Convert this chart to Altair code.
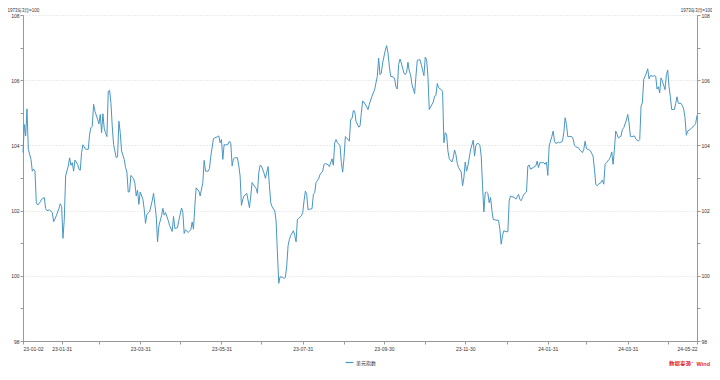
import altair as alt
import pandas as pd

SERIES = "美元指数"
AXIS_TITLE = "1973年3月=100"
SOURCE = "数据来源：Wind"
LINE_COLOR = "#4896c4"

# ---- data: day-of-month and index value, month by month ----
d2023_01 = [2, 3, 4, 5, 6, 8, 9, 10, 11, 12, 13, 15, 16, 18, 19, 20, 22, 24, 25, 27, 29, 30, 31]
v2023_01 = [103.78, 104.64, 104.29, 105.12, 103.88, 103.57, 103.21, 103.27, 103.2, 102.24, 102.17, 102.27,
            102.35, 102.4, 102.06, 102.0, 102.02, 101.94, 101.66, 101.84, 102.07, 102.21, 102.12]
d2023_02 = [1, 2, 3, 5, 6, 7, 8, 9, 10, 12, 13, 14, 15, 16, 18, 20, 21, 22, 23, 24, 25, 27, 28]
v2023_02 = [101.15, 101.73, 103.06, 103.37, 103.62, 103.39, 103.47, 103.21, 103.55, 103.42, 103.27, 103.24,
            103.78, 104.02, 103.88, 103.88, 104.34, 104.54, 104.59, 105.26, 105.05, 104.8, 104.66]
d2023_03 = [1, 2, 3, 4, 5, 6, 7, 8, 9, 10, 11, 13, 14, 15, 16, 17, 19, 20, 21, 22, 23, 24, 26, 27, 28, 29, 30, 31]
v2023_03 = [104.95, 104.39, 104.97, 104.51, 104.39, 104.27, 105.66, 105.69, 105.31, 104.59, 104.03, 103.62,
            103.65, 104.74, 104.39, 103.83, 103.57, 103.32, 103.18, 102.57, 102.58, 103.08, 102.98, 102.84,
            102.45, 102.63, 102.19, 102.57]
d2023_04 = [2, 3, 4, 5, 7, 9, 10, 12, 13, 14, 16, 17, 18, 19, 21, 22, 24, 25, 26, 28, 29]
v2023_04 = [102.35, 102.04, 101.61, 101.89, 101.96, 102.3, 102.53, 101.84, 101.04, 101.53, 101.84, 102.07,
            101.86, 101.94, 101.7, 101.55, 101.36, 101.82, 101.45, 101.48, 101.7]
d2023_05 = [1, 2, 3, 4, 6, 8, 9, 10, 11, 12, 14, 15, 17, 18, 19, 21, 22, 23, 25, 26, 28, 29, 30, 31]
v2023_05 = [102.08, 101.94, 101.3, 101.41, 101.33, 101.41, 101.65, 101.43, 102.14, 102.7, 102.6, 102.45,
            102.86, 103.54, 103.21, 103.21, 103.29, 103.67, 104.21, 104.23, 104.27, 104.29, 104.08, 104.18]
d2023_06 = [1, 2, 3, 5, 6, 7, 8, 9, 10, 12, 13, 14, 15, 16, 17, 19, 21, 22, 23, 24, 26, 27, 28, 29, 30]
v2023_06 = [103.57, 104.03, 104.01, 104.04, 104.13, 104.06, 103.37, 103.59, 103.62, 103.62, 103.37, 103.06,
            102.16, 102.35, 102.45, 102.53, 102.09, 102.45, 102.86, 102.79, 102.68, 102.53, 103.16, 103.39, 103.37]
d2023_07 = [2, 3, 4, 5, 6, 7, 8, 10, 11, 12, 13, 14, 16, 17, 18, 19, 20, 21, 22, 24, 25, 26, 27, 28, 30, 31]
v2023_07 = [103.14, 102.99, 103.18, 103.35, 102.76, 102.24, 102.12, 101.99, 101.68, 100.71, 99.77, 99.97,
            99.95, 99.92, 99.95, 100.31, 100.92, 101.12, 101.24, 101.38, 101.24, 101.04, 101.73, 101.76,
            101.84, 101.94]
d2023_08 = [1, 2, 3, 4, 5, 7, 8, 9, 10, 12, 13, 15, 16, 17, 19, 20, 22, 23, 24, 25, 26, 28, 29, 30, 31]
v2023_08 = [102.3, 102.6, 102.5, 102.02, 102.04, 102.06, 102.5, 102.55, 102.86, 102.98, 103.11, 103.21,
            103.42, 103.44, 103.41, 103.35, 103.59, 103.39, 104.08, 104.18, 104.08, 104.0, 103.47, 103.18, 103.62]
d2023_09 = [1, 2, 4, 5, 6, 7, 8, 9, 11, 12, 13, 14, 15, 17, 18, 19, 20, 21, 23, 24, 25, 26, 27, 28, 29]
v2023_09 = [104.27, 104.23, 104.13, 104.8, 104.82, 105.07, 105.05, 104.74, 104.56, 104.59, 105.0, 105.36,
            105.33, 105.18, 105.1, 105.26, 105.39, 105.51, 105.71, 105.92, 106.12, 106.68, 106.17, 106.22, 106.53]
d2023_10 = [1, 2, 3, 4, 5, 7, 8, 9, 10, 11, 12, 13, 15, 16, 17, 18, 19, 20, 21, 23, 24, 25, 27, 28, 30, 31]
v2023_10 = [106.92, 107.06, 106.84, 106.43, 106.12, 106.1, 106.04, 105.79, 105.73, 106.48, 106.65, 106.53,
            106.22, 106.17, 106.24, 106.55, 106.28, 106.17, 105.87, 105.59, 106.12, 106.61, 106.63, 106.48,
            106.14, 106.71]
d2023_11 = [1, 2, 3, 4, 6, 7, 8, 9, 10, 12, 13, 14, 15, 16, 17, 18, 20, 21, 22, 23, 24, 25, 27, 28, 29, 30]
v2023_11 = [106.63, 106.12, 105.1, 105.18, 105.33, 105.51, 105.53, 105.9, 105.77, 105.71, 105.66, 104.08,
            104.39, 104.34, 103.83, 103.59, 103.49, 103.62, 103.86, 103.72, 103.45, 103.32, 103.18, 102.76,
            103.01, 103.49]
d2023_12 = [1, 2, 3, 4, 6, 7, 8, 9, 10, 11, 12, 13, 14, 15, 16, 17, 18, 19, 20, 21, 23, 25, 26, 27, 28, 29, 30]
v2023_12 = [103.21, 103.37, 103.62, 103.86, 104.16, 103.67, 104.0, 104.06, 104.06, 104.0, 103.67, 102.76,
            101.96, 102.55, 102.57, 102.53, 102.24, 102.4, 102.02, 101.73, 101.71, 101.7, 101.43, 100.97,
            101.24, 101.38, 101.36]
d2024_01 = [1, 2, 3, 4, 6, 7, 9, 10, 11, 12, 13, 15, 16, 17, 18, 20, 22, 23, 24, 25, 26, 28, 29, 30, 31]
v2024_01 = [101.35, 102.3, 102.45, 102.43, 102.4, 102.35, 102.5, 102.35, 102.3, 102.4, 102.5, 102.57,
            103.37, 103.4, 103.27, 103.32, 103.37, 103.52, 103.32, 103.47, 103.47, 103.47, 103.42, 103.49, 103.08]
d2024_02 = [1, 2, 3, 4, 5, 6, 8, 9, 11, 12, 13, 14, 15, 16, 18, 19, 20, 21, 23, 24, 26, 27, 28, 29]
v2024_02 = [103.98, 104.13, 104.27, 104.44, 104.13, 104.06, 104.1, 104.08, 104.13, 104.39, 104.85, 104.64,
            104.27, 104.27, 104.27, 104.2, 104.0, 103.96, 103.93, 103.86, 103.78, 103.88, 104.13, 103.9]
d2024_03 = [2, 3, 5, 6, 7, 8, 9, 11, 12, 13, 14, 15, 17, 18, 19, 20, 21, 22, 23, 24, 26, 27, 28, 30, 31]
v2024_03 = [103.86, 103.83, 103.67, 103.27, 102.81, 102.76, 102.81, 102.86, 102.94, 102.81, 103.42, 103.47,
            103.57, 103.65, 103.8, 103.42, 103.88, 104.44, 104.34, 104.23, 104.29, 104.49, 104.54, 104.78, 104.95]
d2024_04 = [1, 2, 3, 5, 6, 8, 9, 10, 11, 12, 13, 14, 15, 16, 17, 19, 20, 21, 22, 23, 24, 25, 26, 28, 29, 30]
v2024_04 = [104.69, 104.27, 104.27, 104.29, 104.2, 104.13, 104.18, 105.2, 105.31, 106.02, 106.12, 106.22,
            106.35, 106.04, 106.14, 106.12, 106.14, 106.12, 105.73, 105.8, 105.61, 106.07, 105.97, 105.71,
            106.17, 106.31]
d2024_05 = [1, 2, 3, 4, 5, 6, 7, 8, 10, 11, 12, 13, 14, 15, 17, 18, 20, 21, 22]
v2024_05 = [105.8, 105.49, 105.1, 105.1, 105.1, 105.29, 105.49, 105.29, 105.29, 105.22, 105.12, 104.85,
            104.31, 104.44, 104.49, 104.54, 104.61, 104.67, 104.92]

months = [
    (2023, 1, d2023_01, v2023_01), (2023, 2, d2023_02, v2023_02), (2023, 3, d2023_03, v2023_03),
    (2023, 4, d2023_04, v2023_04), (2023, 5, d2023_05, v2023_05), (2023, 6, d2023_06, v2023_06),
    (2023, 7, d2023_07, v2023_07), (2023, 8, d2023_08, v2023_08), (2023, 9, d2023_09, v2023_09),
    (2023, 10, d2023_10, v2023_10), (2023, 11, d2023_11, v2023_11), (2023, 12, d2023_12, v2023_12),
    (2024, 1, d2024_01, v2024_01), (2024, 2, d2024_02, v2024_02), (2024, 3, d2024_03, v2024_03),
    (2024, 4, d2024_04, v2024_04), (2024, 5, d2024_05, v2024_05),
]

# x-axis ticks (month ends plus first and last day) and y-axis ticks
x_ticks = ["2023-01-02", "2023-01-31", "2023-02-28", "2023-03-31", "2023-04-30", "2023-05-31",
           "2023-06-30", "2023-07-31", "2023-08-31", "2023-09-30", "2023-10-31", "2023-11-30",
           "2023-12-31", "2024-01-31", "2024-02-29", "2024-03-31", "2024-04-30", "2024-05-22"]
y_ticks = [98, 99, 100, 101, 102, 103, 104, 105, 106, 107, 108]
y_domain = [98, 108]

rows = []
for yr, mo, days, vals in months:
    for d, v in zip(days, vals):
        rows.append({"date": f"{yr:04d}-{mo:02d}-{d:02d}", "value": v, "series": SERIES})
df = pd.DataFrame(rows)


def dt(s):
    y, m, d = (int(p) for p in s.split("-"))
    return alt.DateTime(year=y, month=m, date=d, utc=True)


FONT = "Arial, 'Liberation Sans', 'Noto Sans CJK SC', sans-serif"
x_enc = alt.X(
    "date:T",
    scale=alt.Scale(type="utc", domain=[dt(x_ticks[0]), dt(x_ticks[-1])], nice=False),
    axis=alt.Axis(
        title=None, values=[dt(s) for s in x_ticks],
        labelExpr="utcmonth(datum.value) % 2 == 0 ? utcFormat(datum.value, '%y-%m-%d') : ''",
        labelOverlap=False, labelFontSize=5, labelColor="#333", labelPadding=2,
        tickSize=3, tickColor="#999", domainColor="#999", grid=False,
    ),
)

grid_cond = {"condition": {"test": "datum.value % 2 == 0", "value": 1}, "value": 0}

left_axis = alt.Axis(
    orient="left", values=y_ticks,
    labelExpr="datum.value % 2 == 0 ? datum.label : ''",
    labelFontSize=5, labelColor="#333", labelPadding=1,
    tickSize=3, tickColor="#999", domainColor="#999",
    grid=True, gridDash=[1, 2], gridColor="#d8d8d8", gridOpacity=grid_cond,
    title=AXIS_TITLE, titleAngle=0, titleX=-16, titleY=-5, titleAlign="left",
    titleBaseline="middle", titleFontSize=4.5, titleFontWeight="normal", titleColor="#333",
)
right_axis = alt.Axis(
    orient="right", values=y_ticks,
    labelExpr="datum.value % 2 == 0 ? datum.label : ''",
    labelFontSize=5, labelColor="#333", labelPadding=1,
    tickSize=3, tickColor="#999", domainColor="#999", grid=False,
    title=AXIS_TITLE, titleAngle=0, titleX=15, titleY=-5, titleAlign="right",
    titleBaseline="middle", titleFontSize=4.5, titleFontWeight="normal", titleColor="#333",
)

line = alt.Chart(df).mark_line(strokeWidth=1.0).encode(
    x=x_enc,
    y=alt.Y("value:Q", scale=alt.Scale(domain=y_domain, nice=False, zero=False), axis=left_axis),
    color=alt.Color(
        "series:N", scale=alt.Scale(range=[LINE_COLOR]),
        legend=alt.Legend(
            title=None, orient="none", legendX=322, legendY=343, direction="horizontal",
            symbolType="stroke", symbolStrokeWidth=1.2, symbolSize=60,
            labelFontSize=5, labelColor="#333", labelOffset=2,
        ),
    ),
)

right = alt.Chart(df).mark_line(strokeOpacity=0).encode(
    x=x_enc,
    y=alt.Y("value:Q", scale=alt.Scale(domain=y_domain, nice=False, zero=False), axis=right_axis),
)

source = alt.Chart(pd.DataFrame({"t": [SOURCE]})).mark_text(
    align="right", baseline="middle", fontSize=5.5, color="#e0282e", fontWeight="bold", font=FONT,
).encode(text="t:N", x=alt.value(687), y=alt.value(349))

chart = (
    alt.layer(line, right, source)
    .resolve_scale(y="independent")
    .properties(
        width=674, height=326,
        autosize=alt.AutoSizeParams(type="none"),
        padding={"left": 15, "top": 7, "right": 15, "bottom": 25},
    )
    .configure(font=FONT)
    .configure_view(stroke=None)
)

chart.save("out.html", embed_options={"renderer": "svg", "actions": False})
